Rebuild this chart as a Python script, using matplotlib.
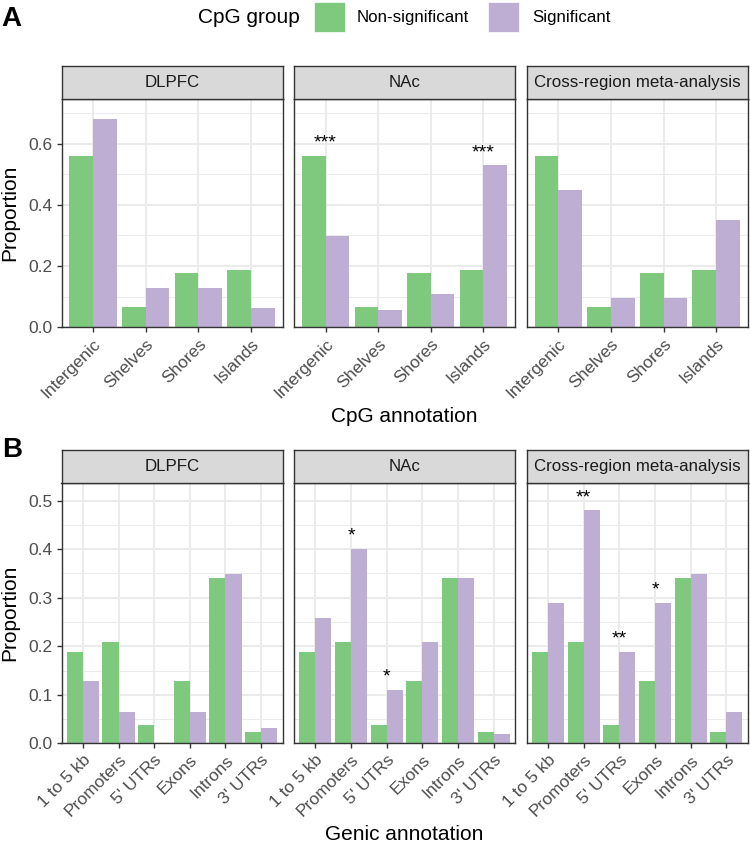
import numpy as np
import matplotlib
matplotlib.use("Agg")
import matplotlib.pyplot as plt
from matplotlib.patches import Rectangle

plt.rcParams['font.family'] = ['Liberation Sans', 'DejaVu Sans']

# Data
regions = ["DLPFC", "NAc", "Cross-region meta-analysis"]
group_labels = ["Non-significant", "Significant"]
group_colors = ["#7FC97F", "#BEAED4"]

cpg_cats = ["Intergenic", "Shelves", "Shores", "Islands"]
cpg_nonsig = [0.560, 0.067, 0.178, 0.188]
cpg_sig_dlpfc = [0.680, 0.128, 0.128, 0.063]
cpg_sig_nac = [0.298, 0.056, 0.108, 0.529]
cpg_sig_meta = [0.449, 0.095, 0.095, 0.349]
cpg_stars_dlpfc = ["", "", "", ""]
cpg_stars_nac = ["***", "", "", "***"]
cpg_stars_meta = ["", "", "", ""]

genic_cats = ["1 to 5 kb", "Promoters", "5' UTRs", "Exons", "Introns", "3' UTRs"]
genic_nonsig = [0.189, 0.209, 0.037, 0.129, 0.340, 0.023]
genic_sig_dlpfc = [0.129, 0.064, 0.0, 0.064, 0.349, 0.031]
genic_sig_nac = [0.259, 0.400, 0.110, 0.209, 0.340, 0.019]
genic_sig_meta = [0.289, 0.480, 0.189, 0.289, 0.349, 0.064]
genic_stars_dlpfc = ["", "", "", "", "", ""]
genic_stars_nac = ["", "*", "*", "", "", ""]
genic_stars_meta = ["", "**", "**", "*", "", ""]

W, H = 750, 844
fig = plt.figure(figsize=(W / 100, H / 100), dpi=100)


def fx(x):
    return x / W


def fy(y):
    return 1 - y / H


PANEL_LEFT = [61.5, 294.0, 526.7]
PANEL_W = 221.0
STRIP_H = 33.0
GRID = "#EBEBEB"
DARK = "#333333"


def draw_row(cats, nonsig, sigs, stars, top, bottom, ymax, yticks, yminor):
    x = np.arange(len(cats))
    for i, region in enumerate(regions):
        left = PANEL_LEFT[i]
        ax = fig.add_axes([fx(left), fy(bottom), PANEL_W / W, (bottom - top) / H])
        ax.set_axisbelow(True)
        ax.bar(x - 0.225, nonsig, width=0.45, color=group_colors[0], linewidth=0)
        ax.bar(x + 0.225, sigs[i], width=0.45, color=group_colors[1], linewidth=0)
        # significance stars above each pair
        for j, s in enumerate(stars[i]):
            if s:
                ax.annotate(s, (x[j], max(nonsig[j], sigs[i][j])), xytext=(0, 6),
                            textcoords="offset points", ha="center", va="baseline",
                            fontsize=14, color="black")
        ax.set_xlim(-0.6, len(cats) - 1 + 0.6)
        ax.set_ylim(0, ymax)
        ax.set_xticks(x)
        ax.set_xticklabels(cats, rotation=45, ha="right", va="top",
                           rotation_mode="anchor", fontsize=12.5, color="#4D4D4D")
        ax.set_yticks(yticks)
        ax.set_yticks(yminor, minor=True)
        ax.grid(True, which="major", color=GRID, linewidth=1.4)
        ax.grid(True, which="minor", axis="y", color=GRID, linewidth=0.7)
        ax.tick_params(axis="both", which="major", color=DARK, length=3.5, width=1.0, pad=3)
        ax.tick_params(axis="y", which="minor", length=0)
        if i == 0:
            ax.set_yticklabels([f"{v:.1f}" for v in yticks], fontsize=12.5, color="#4D4D4D")
        else:
            ax.tick_params(axis="y", which="major", length=0, labelleft=False)
        for sp in ax.spines.values():
            sp.set_color(DARK)
            sp.set_linewidth(1.0)

        # facet strip
        sax = fig.add_axes([fx(left), fy(top), PANEL_W / W, STRIP_H / H])
        sax.set_facecolor("#D9D9D9")
        sax.set_xticks([])
        sax.set_yticks([])
        for sp in sax.spines.values():
            sp.set_color(DARK)
            sp.set_linewidth(1.0)
        sax.text(0.5, 0.5, region, ha="center", va="center", fontsize=12.2,
                 color="#1A1A1A", transform=sax.transAxes)

    fig.text(fx(10), fy((top + bottom) / 2), "Proportion", rotation=90,
             ha="center", va="center", fontsize=15)


draw_row(cpg_cats, cpg_nonsig,
         [cpg_sig_dlpfc, cpg_sig_nac, cpg_sig_meta],
         [cpg_stars_dlpfc, cpg_stars_nac, cpg_stars_meta],
         top=99.3, bottom=327.3, ymax=0.745,
         yticks=[0.0, 0.2, 0.4, 0.6], yminor=[0.1, 0.3, 0.5, 0.7])
fig.text(fx(404.4), fy(416), "CpG annotation", ha="center", va="center", fontsize=15)

draw_row(genic_cats, genic_nonsig,
         [genic_sig_dlpfc, genic_sig_nac, genic_sig_meta],
         [genic_stars_dlpfc, genic_stars_nac, genic_stars_meta],
         top=482.7, bottom=743.3, ymax=0.537,
         yticks=[0.0, 0.1, 0.2, 0.3, 0.4, 0.5],
         yminor=[0.05, 0.15, 0.25, 0.35, 0.45])
fig.text(fx(404.4), fy(834), "Genic annotation", ha="center", va="center", fontsize=15)

# panel tags
fig.text(fx(1.5), fy(26), "A", ha="left", va="baseline", fontsize=20, fontweight="bold")
fig.text(fx(2.5), fy(457), "B", ha="left", va="baseline", fontsize=20, fontweight="bold")

# legend (top)
fig.text(fx(198), fy(17.5), "CpG group", ha="left", va="center", fontsize=15)
box_x = [314, 488]
text_x = [357, 532]
for k in range(2):
    fig.add_artist(Rectangle((fx(box_x[k]), fy(32.3)), 31 / W, 30.6 / H,
                             transform=fig.transFigure, facecolor=group_colors[k],
                             edgecolor="white", linewidth=0.5))
    fig.text(fx(text_x[k]), fy(17.5), group_labels[k], ha="left", va="center", fontsize=12.2)

fig.savefig("out.png", dpi=100, facecolor="white")
